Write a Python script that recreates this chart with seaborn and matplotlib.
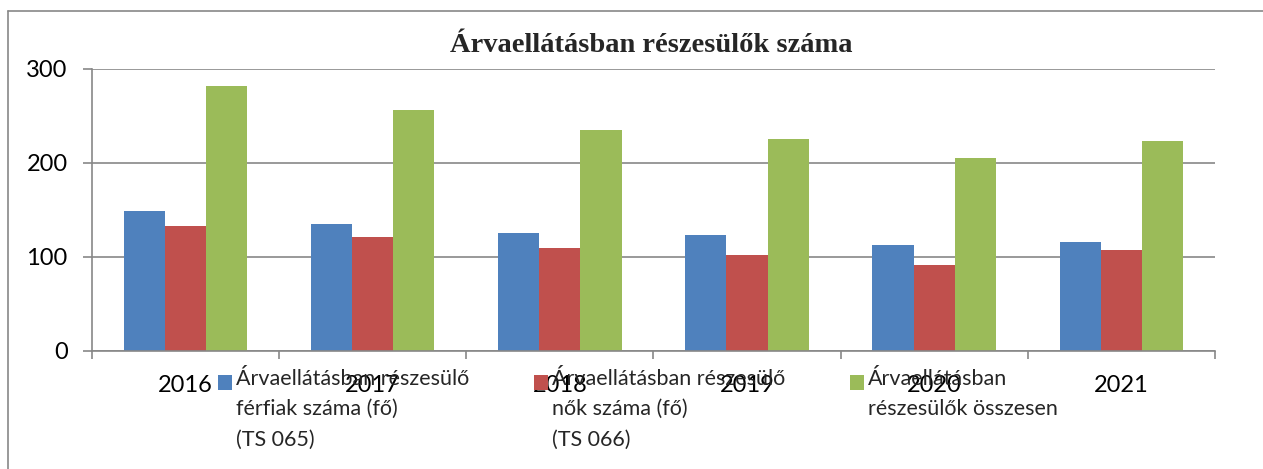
import numpy as np
import pandas as pd
import seaborn as sns
import matplotlib.pyplot as plt
from matplotlib.lines import Line2D

# adatok (leolvasva az ábráról)
years = ['2016', '2017', '2018', '2019', '2020', '2021']
ferfiak = [149, 135, 125, 123, 113, 116]
nok = [133, 121, 110, 102, 92, 107]
osszesen = [282, 256, 235, 225, 205, 223]

series_names = [
    'Árvaellátásban részesülő\nférfiak száma (fő)\n(TS 065)',
    'Árvaellátásban részesülő\nnők száma (fő)\n(TS 066)',
    'Árvaellátásban\nrészesülők összesen\n ',
]
colors = ['#4F81BD', '#C0504D', '#9BBB59']
title = 'Árvaellátásban részesülők száma'

df = pd.DataFrame({
    'ev': years * 3,
    'ertek': ferfiak + nok + osszesen,
    'sorozat': [series_names[0]] * 6 + [series_names[1]] * 6 + [series_names[2]] * 6,
})

sns.set_theme(style='white')
plt.rcParams['font.family'] = ['Lato', 'DejaVu Sans']
gray = '#878787'

fig = plt.figure(figsize=(12.63, 4.69), dpi=100)
ax = fig.add_axes([0.0728, 0.2516, 0.962 - 0.0728, 0.853 - 0.2516])

sns.barplot(data=df, x='ev', y='ertek', hue='sorozat', palette=colors,
            width=0.66, saturation=1, linewidth=0, ax=ax)

handles, labels = ax.get_legend_handles_labels()
ax.legend_.remove()

ax.set_xlim(-0.5, 5.5)
ax.set_ylim(0, 300)
ax.set_yticks([0, 100, 200, 300])
ax.set_xlabel('')
ax.set_ylabel('')
ax.grid(axis='y', color=gray, linewidth=1.2)
ax.set_axisbelow(True)
for s in ['top', 'right']:
    ax.spines[s].set_visible(False)
for s in ['left', 'bottom']:
    ax.spines[s].set_color(gray)
    ax.spines[s].set_linewidth(1.2)

ax.set_xticks(np.arange(-0.5, 6, 1), minor=True)
ax.tick_params(axis='x', which='major', length=0, pad=17, labelsize=17, labelcolor='black')
ax.tick_params(axis='x', which='minor', length=6, width=1.2, color=gray, direction='out', bottom=True)
ax.tick_params(axis='y', which='major', length=6.5, width=1.2, color=gray, direction='out',
               pad=11, labelsize=17, labelcolor='black', left=True)

fig.text(0.5155, 0.902, title, ha='center', va='center', fontsize=20.5,
         fontweight='bold', family='Liberation Serif')

# keret (bal és felső szél)
fig.add_artist(Line2D([0.0063, 0.0063], [0, 0.9765], color=gray, linewidth=1.2))
fig.add_artist(Line2D([0.0063, 1], [0.9765, 0.9765], color=gray, linewidth=1.2))

leg = fig.legend(handles, labels, loc='upper left', bbox_to_anchor=(218 / 1263, 1 - 369 / 469),
                 ncol=3, frameon=False, fontsize=15.5, borderpad=0, borderaxespad=0,
                 handlelength=0.65, handleheight=0.65, handletextpad=0.19, columnspacing=3.0,
                 labelspacing=0)
for t in leg.get_texts():
    t.set_linespacing(1.64)

# a jelölőket az első sorhoz igazítjuk
fig.canvas.draw()
r = fig.canvas.get_renderer()
for h, t in zip(leg.legend_handles, leg.get_texts()):
    tb = t.get_window_extent(r)
    hb = h.get_window_extent(r)
    line_h = tb.height / 3
    target = tb.y1 - line_h / 2
    dy = (target - (hb.y0 + hb.y1) / 2) * 72 / fig.dpi
    h.set_y(h.get_y() + dy)

fig.savefig('out.png', dpi=100)
